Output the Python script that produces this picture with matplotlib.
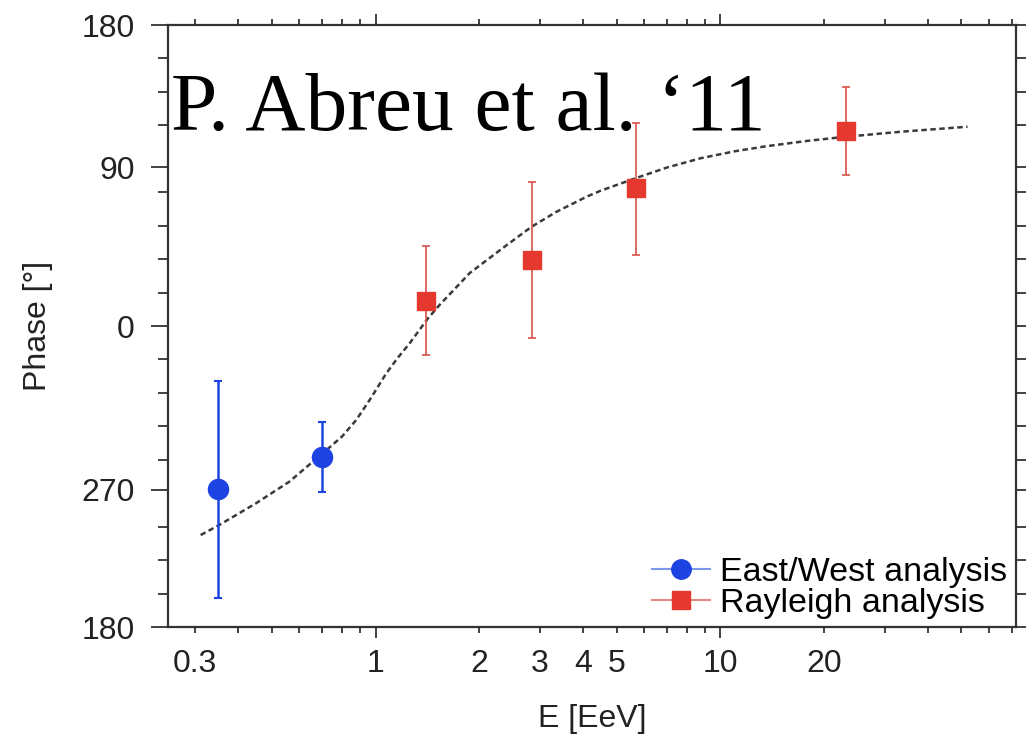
import matplotlib
matplotlib.use("Agg")
import matplotlib.pyplot as plt
from matplotlib.lines import Line2D
from matplotlib.ticker import FixedLocator, FixedFormatter, NullFormatter

plt.rcParams['font.family'] = ['Liberation Sans', 'DejaVu Sans']

# East/West analysis (energy in EeV, phase in degrees, asymmetric errors)
ew_energy = [0.35, 0.70]
ew_phase = [-97.7, -78.5]
ew_err_low = [64.8, 20.6]
ew_err_high = [64.8, 21.3]

# Rayleigh analysis
ray_energy = [1.40, 2.85, 5.70, 23.1]
ray_phase = [15.1, 39.5, 82.3, 116.8]
ray_err_low = [32.4, 46.9, 39.8, 26.5]
ray_err_high = [32.9, 46.8, 39.3, 26.3]

# dotted fit curve
fit_energy = [0.311, 0.352, 0.450, 0.562, 0.703, 0.80, 0.879, 0.97, 1.074, 1.16, 1.256,
              1.419, 1.535, 1.876, 2.344, 2.836, 3.352, 4.10, 4.48, 5.66, 7.0, 8.75,
              11.0, 13.67, 18.0, 23.1, 33.4, 52.1]
fit_phase = [-125.0, -119.0, -106.0, -93.1, -76.1, -66.0, -56.2, -43.0, -28.3, -19.0, -10.3,
             4.6, 12.7, 31.7, 46.8, 59.4, 68.4, 77.4, 80.8, 88.3, 94.8, 100.3,
             104.5, 107.6, 110.8, 113.2, 116.2, 119.2]

# axis ticks
phase_tick_pos = [-180, -98, 0, 95, 180]
phase_tick_labels = ['180', '270', '0', '90', '180']
phase_minor_pos = [-160, -140, -120, -80, -60, -40, -20, 20, 40, 60, 80, 120, 140, 160]
e_major = [1, 10]
e_minor = [0.3, 0.4, 0.5, 0.6, 0.7, 0.8, 0.9, 2, 3, 4, 5, 6, 7, 8, 9, 20, 30, 40, 50, 60, 70]
e_minor_labels = ['0.3', '', '', '', '', '', '', '2', '3', '4', '5', '', '', '', '',
                  '20', '', '', '', '', '']

blue = '#1d44e3'
red = '#e5392f'
red_err = '#d9504a'
axis_col = '#333333'

fig = plt.figure(figsize=(10.26, 7.41), dpi=100)
ax = fig.add_axes([0.1637, 0.1538, 0.8265, 0.8124])

ax.plot(fit_energy, fit_phase, color='#3a3a3a', lw=1.8, dashes=(2.2, 1.4), zorder=2)

ax.errorbar(ew_energy, ew_phase, yerr=[ew_err_low, ew_err_high], fmt='o', color=blue,
            ms=14.5, elinewidth=1.8, capsize=3, capthick=1.5, zorder=3)
ax.errorbar(ray_energy, ray_phase, yerr=[ray_err_low, ray_err_high], fmt='s', color=red,
            ecolor=red_err, ms=13, elinewidth=1.2, capsize=3, capthick=1.2, zorder=3)

ax.set_xscale('log')
ax.set_xlim(0.25, 72)
ax.set_ylim(-180, 180)

ax.xaxis.set_major_locator(FixedLocator(e_major))
ax.xaxis.set_major_formatter(FixedFormatter(['1', '10']))
ax.xaxis.set_minor_locator(FixedLocator(e_minor))
ax.xaxis.set_minor_formatter(FixedFormatter(e_minor_labels))
ax.yaxis.set_major_locator(FixedLocator(phase_tick_pos))
ax.yaxis.set_major_formatter(FixedFormatter(phase_tick_labels))
ax.yaxis.set_minor_locator(FixedLocator(phase_minor_pos))
ax.yaxis.set_minor_formatter(NullFormatter())

ax.tick_params(axis='x', which='major', direction='out', length=8, width=1.3,
               pad=8, top=True, labelsize=23, colors=axis_col, labelcolor='#222222')
ax.tick_params(axis='x', which='minor', direction='out', length=4.5, width=1.3,
               pad=11.5, top=True, labelsize=23, colors=axis_col, labelcolor='#222222')
ax.tick_params(axis='y', which='major', direction='out', length=12, width=1.3,
               pad=12, right=True, labelsize=23, colors=axis_col, labelcolor='#222222')
ax.tick_params(axis='y', which='minor', direction='out', length=7, width=1.3,
               right=True, colors=axis_col)

for side in ax.spines.values():
    side.set_color(axis_col)
    side.set_linewidth(1.6)

ax.set_xlabel('E [EeV]', fontsize=23, color='#222222', labelpad=18)
ax.set_ylabel('Phase [°]', fontsize=23, color='#222222', labelpad=20)

ax.text(0.003, 0.826, 'P. Abreu et al. \u201811', transform=ax.transAxes,
        family='Liberation Serif', fontsize=60, va='baseline', ha='left', zorder=5)

handles = [
    Line2D([], [], color='#7d97ea', lw=1.5, marker='o', ms=14,
           markerfacecolor=blue, markeredgecolor=blue),
    Line2D([], [], color='#e88a85', lw=1.5, marker='s', ms=13,
           markerfacecolor=red, markeredgecolor=red),
]
ax.legend(handles, ['East/West analysis', 'Rayleigh analysis'], loc='lower right',
          frameon=False, fontsize=24.5, handlelength=1.7, handletextpad=0.3,
          labelspacing=0.0, borderaxespad=0.15, borderpad=0.1)

fig.savefig('out.png', dpi=100)
